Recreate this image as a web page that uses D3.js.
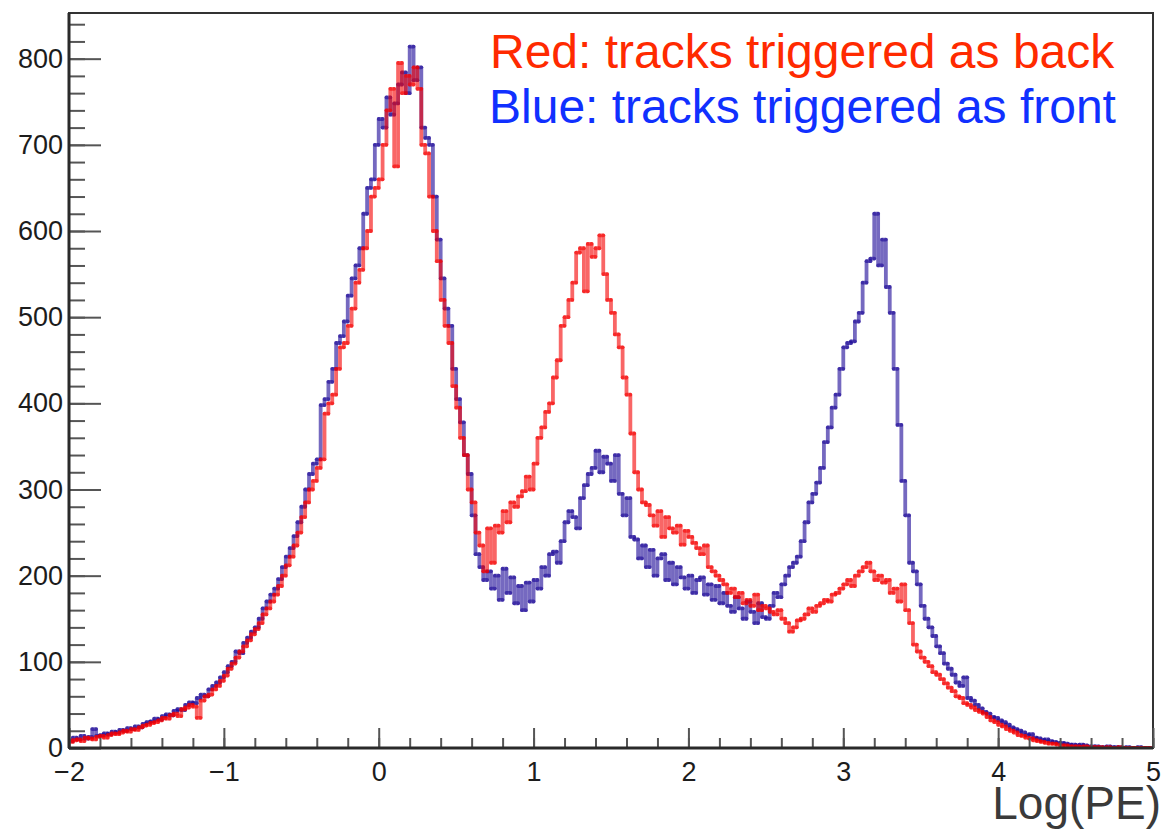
<!DOCTYPE html>
<html>
<head>
<meta charset="utf-8">
<script src="https://cdn.jsdelivr.net/npm/d3@7"></script>
<style>
  body { margin: 0; background: #fff; }
  svg { display: block; font-family: "Liberation Sans", Arial, Helvetica, sans-serif; }
</style>
</head>
<body>
<svg id="hist" width="1165" height="832"></svg>
<script>
// histogram range, bins of 0.025 in Log(PE)
var xMin = -2, xMax = 5, binWidth = 0.025;

// Blue: tracks triggered as front (20 bins per row = 0.5 units)
var blueCounts = [
  8,12,10,14,11,13,22,14,15,17,16,19,18,21,20,23,22,25,24,28,          // -2.0 .. -1.5
  30,31,34,33,37,39,38,43,45,44,50,53,52,58,62,60,68,72,76,82,         // -1.5 .. -1.0
  88,95,100,112,110,122,128,135,140,150,162,170,178,185,196,210,222,232,246,262,
  280,300,318,330,335,398,405,425,440,470,478,495,525,545,560,580,620,650,660,700,
  730,720,755,735,748,770,784,760,814,775,790,720,708,700,640,590,545,510,490,440,
  405,378,340,318,270,225,210,195,205,185,200,172,208,180,198,168,188,160,192,170,
  195,185,210,200,225,228,215,240,262,275,268,255,290,305,318,325,345,320,338,330,
  310,340,295,270,290,245,242,220,235,210,230,200,220,225,195,215,190,210,198,185,
  200,180,195,198,178,190,172,188,168,180,165,158,175,162,150,170,158,145,168,152,
  150,165,180,175,190,200,210,215,222,240,262,285,295,308,325,355,372,395,410,440,
  465,470,472,495,505,540,565,568,620,560,590,535,505,440,375,310,270,215,205,190,
  165,150,140,130,118,110,98,92,85,76,72,82,58,55,50,46,42,40,36,35,
  32,30,27,24,22,20,18,15,16,12,11,9,10,8,7,6,6,5,4,4,
  3,4,3,2,2,2,1,1,2,1,1,1,0,1,0,0,1,0,0,0
];

// Red: tracks triggered as back
var redCounts = [
  7,9,10,8,12,11,10,13,14,12,15,17,16,18,20,19,22,21,24,26,
  27,29,30,32,35,34,38,40,37,45,47,50,48,35,55,60,62,68,72,78,
  84,92,98,105,112,118,125,132,138,145,155,162,170,178,188,200,212,222,235,250,
  268,285,300,310,325,335,388,400,410,440,465,470,490,510,540,555,580,600,640,650,
  660,700,740,765,675,795,760,780,770,790,765,700,690,640,600,565,520,490,470,420,
  395,360,340,300,285,250,235,205,255,215,258,250,275,262,285,280,292,298,315,300,
  330,360,372,390,400,430,450,490,500,520,540,575,580,530,585,570,580,595,550,520,
  505,480,465,430,410,365,320,300,285,282,270,258,275,245,268,255,250,258,236,252,
  245,238,232,225,235,210,205,200,195,190,180,185,175,180,168,172,165,178,160,165,
  162,158,155,160,150,145,135,140,148,150,155,162,158,165,168,172,170,178,180,185,
  190,195,188,200,205,210,215,205,195,200,192,195,180,185,170,190,160,145,120,112,
  105,100,95,88,85,80,75,70,66,60,58,52,50,47,44,42,40,36,32,30,
  27,25,22,20,18,15,14,12,11,9,8,7,6,5,5,4,3,3,2,2,
  2,1,2,1,1,1,1,0,1,0,0,1,0,0,0,0,0,0,0,0
];

var xTickValues = [-2, -1, 0, 1, 2, 3, 4, 5];
var yTickValues = [0, 100, 200, 300, 400, 500, 600, 700, 800];
var yMax = 853;

var legendLines = ["Red: tracks triggered as back", "Blue: tracks triggered as front"];
var xTitle = "Log(PE)";

var svg = d3.select("#hist");
var frame = { left: 69, right: 1153, top: 13, bottom: 748 };

var x = d3.scaleLinear().domain([xMin, xMax]).range([frame.left, frame.right]);
var y = d3.scaleLinear().domain([0, yMax]).range([frame.bottom, frame.top]);

svg.append("defs").append("clipPath")
    .attr("id", "plotClip")
  .append("rect")
    .attr("x", frame.left)
    .attr("y", frame.top)
    .attr("width", frame.right - frame.left)
    .attr("height", frame.bottom - frame.top);

// step outline, split into single segments so the joins overlap (like the ROOT png)
function stepSegments(counts){
    var segs = [];
    counts.forEach(function(c, i){
        var x0 = xMin + i * binWidth, x1 = x0 + binWidth;
        segs.push({ x1: x0, y1: c, x2: x1, y2: c });
        if (i < counts.length - 1) {
            segs.push({ x1: x1, y1: c, x2: x1, y2: counts[i + 1] });
        }
    });
    return segs;
}

function drawHist(counts, color, cls){
    svg.append("g")
        .attr("clip-path", "url(#plotClip)")
        .classed(cls, true)
      .selectAll("line")
      .data(stepSegments(counts))
      .join("line")
        .attr("x1", d => x(d.x1))
        .attr("y1", d => y(d.y1))
        .attr("x2", d => x(d.x2))
        .attr("y2", d => y(d.y2))
        .attr("stroke", color)
        .attr("stroke-width", 3.8)
        .attr("stroke-opacity", 0.6)
        .attr("stroke-linecap", "round");
}

drawHist(blueCounts, "rgb(25,5,150)", "blue-hist");
drawHist(redCounts, "rgb(245,0,0)", "red-hist");

// frame
svg.append("rect")
    .attr("x", frame.left)
    .attr("y", frame.top)
    .attr("width", frame.right - frame.left)
    .attr("height", frame.bottom - frame.top)
    .attr("fill", "none")
    .attr("stroke", "#333")
    .attr("stroke-width", 2);

// x axis: minor every 0.2, major every 1
var xMinor = d3.range(xMin, xMax + 0.001, 0.2).map(v => +v.toFixed(1));
var xMinorAxis = svg.append("g")
    .attr("transform", "translate(0," + frame.bottom + ")")
    .call(d3.axisBottom(x).tickValues(xMinor).tickSize(-10).tickFormat(""));
var xMajorAxis = svg.append("g")
    .attr("transform", "translate(0," + frame.bottom + ")")
    .call(d3.axisBottom(x).tickValues(xTickValues).tickSize(-20).tickPadding(14)
        .tickFormat(d3.format("d")));

// y axis: minor every 20, major every 100
var yMinor = d3.range(0, 841, 20);
var yMinorAxis = svg.append("g")
    .attr("transform", "translate(" + frame.left + ",0)")
    .call(d3.axisLeft(y).tickValues(yMinor).tickSize(-16).tickFormat(""));
var yMajorAxis = svg.append("g")
    .attr("transform", "translate(" + frame.left + ",0)")
    .call(d3.axisLeft(y).tickValues(yTickValues).tickSize(-32).tickPadding(6));

[xMinorAxis, xMajorAxis, yMinorAxis, yMajorAxis].forEach(function(g){
    g.select(".domain").remove();
    g.selectAll(".tick line").attr("stroke", "#555").attr("stroke-width", 2);
    g.selectAll("text")
        .attr("font-size", 27)
        .attr("fill", "#1c1c1c")
        .attr("font-family", "Liberation Sans, Arial, sans-serif");
});

// heavier axis lines
svg.append("line")
    .attr("x1", frame.left).attr("x2", frame.right)
    .attr("y1", frame.bottom).attr("y2", frame.bottom)
    .attr("stroke", "#2a2a2a").attr("stroke-width", 3);
svg.append("line")
    .attr("x1", frame.left).attr("x2", frame.left)
    .attr("y1", frame.top).attr("y2", frame.bottom)
    .attr("stroke", "#2a2a2a").attr("stroke-width", 3);

// axis title
svg.append("text")
    .attr("x", 1161)
    .attr("y", 819)
    .attr("text-anchor", "end")
    .attr("font-size", 46)
    .attr("fill", "#3a3a3a")
    .text(xTitle);

// legend text
svg.append("text")
    .attr("x", 490)
    .attr("y", 68)
    .attr("font-size", 48)
    .attr("fill", "#ff2a00")
    .text(legendLines[0]);
svg.append("text")
    .attr("x", 489)
    .attr("y", 123)
    .attr("font-size", 48)
    .attr("fill", "#1030ff")
    .text(legendLines[1]);
</script>
</body>
</html>
